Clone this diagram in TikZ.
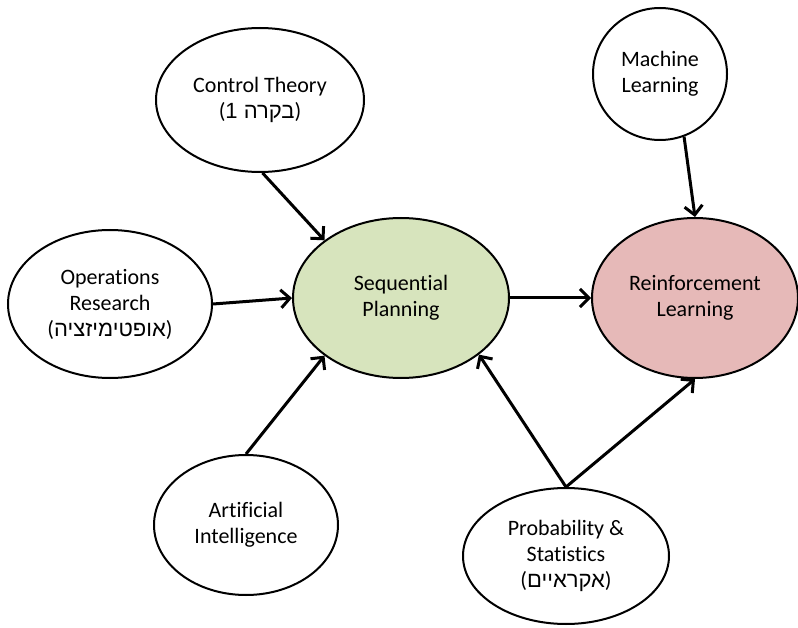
\documentclass[tikz,border=0pt]{standalone}
\usepackage{fontspec}
\setmainfont{Carlito}[Ligatures=NoCommon]
\newfontfamily\hebfont[Script=Hebrew]{Liberation Sans}
\TeXXeTstate=1
\usepackage{tikz}
\usetikzlibrary{shapes.geometric,arrows.meta,positioning}
\definecolor{planfill}{HTML}{D7E4BD}
\definecolor{rlfill}{HTML}{E6B9B8}
\newcommand{\hebpar}[1]{({\hebfont\beginR #1\endR})}
\tikzset{
>={Straight Barb[length=9pt,width=18pt]},
  topic/.style={
    ellipse,
    draw=black, line width=2pt,
    fill=white,
    inner sep=0pt,
    align=center,
    font=\fontsize{22}{26}\selectfont},
  link/.style={line width=3pt, ->},
}

\begin{document}
\begin{tikzpicture}[
    x=1pt, y=-1pt,
    core/.style={topic, fill=planfill},
    goal/.style={topic, fill=rlfill}
    ]
    \useasboundingbox (0,0) rectangle (798,628);

    % the fields
    \node[topic, minimum width=208pt, minimum height=144pt] (ct) at (260,100)
         {Control Theory\\\hebpar{בקרה 1}};
    \node[topic, minimum width=134pt, minimum height=132pt] (ml) at (660,74)
         {Machine\\Learning};
    \node[topic, minimum width=204pt, minimum height=148pt] (or) at (110,304)
         {Operations\\Research\\\hebpar{אופטימיזציה}};
    \node[core, minimum width=216pt, minimum height=160pt] (sp) at (401,298)
         {Sequential\\Planning};
    \node[goal, minimum width=206pt, minimum height=160pt] (rl) at (695,298)
         {Reinforcement\\Learning};
    \node[topic, minimum width=184pt, minimum height=140pt] (ai) at (246,525)
         {Artificial\\Intelligence};
    \node[topic, minimum width=206pt, minimum height=136pt] (ps) at (566,556)
         {Probability \&\\Statistics\\\hebpar{אקראיים}};

    % arrows
    \draw[link] (ct.-88) -- (sp.143);
    \draw[link] (or.east) -- (sp.west);
    \draw[link] (ai.north) -- (sp.-143);
    \draw[link] (ml.-69) -- (rl.north);
    \draw[link] (sp.east) -- (rl.west);
    \draw[link] (ps.north) -- (sp.-36);
    \draw[link] (ps.north) -- (rl.south);

\end{tikzpicture}
\end{document}
